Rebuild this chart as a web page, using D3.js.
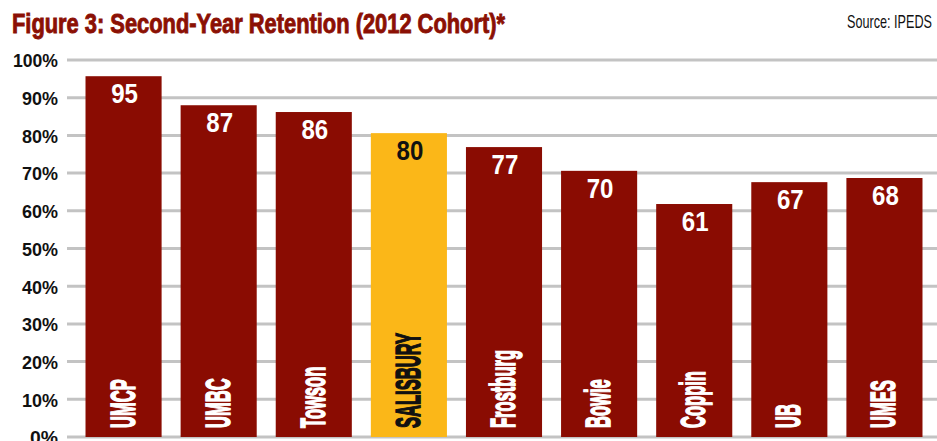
<!DOCTYPE html>
<html>
<head>
<meta charset="utf-8">
<script src="https://cdn.jsdelivr.net/npm/d3@7"></script>
<style>
  html, body { margin: 0; padding: 0; background: #fff; }
  svg { display: block; }
</style>
</head>
<body>
<svg id="chart" width="937" height="441"></svg>
<script>
// ---- data ----
const categories = ["UMCP", "UMBC", "Towson", "SALISBURY", "Frostburg", "Bowie", "Coppin", "UB", "UMES"];
const retention = [95.7, 88.0, 86.2, 80.6, 76.9, 70.6, 61.8, 67.6, 68.7];
const valueLabels = ["95", "87", "86", "80", "77", "70", "61", "67", "68"];
const highlight = "SALISBURY";
const yTicks = [0, 10, 20, 30, 40, 50, 60, 70, 80, 90, 100];
const titleText = "Figure 3: Second-Year Retention (2012 Cohort)*";
const sourceText = "Source: IPEDS";

// ---- styles ----
const RED = "#8a0c02";
const GOLD = "#fbb718";
const GRID = "#c3c3c3";
const FONT = "'Liberation Sans', Arial, sans-serif";

const svg = d3.select("#chart");

const x = d3.scaleBand().domain(categories).range([76, 932]).paddingInner(0.2).paddingOuter(0.1);
const y = d3.scaleLinear().domain([0, 100]).range([437, 60]);

// gridlines
const yAxis = d3.axisLeft(y).tickValues(yTicks).tickSize(0).tickFormat(d => d + "%");
svg.append("g")
  .selectAll("line.grid")
  .data(yTicks)
  .join("line")
  .attr("x1", 67).attr("x2", 937)
  .attr("y1", d => y(d)).attr("y2", d => y(d))
  .attr("stroke", GRID).attr("stroke-width", 3);

// axis labels
const ag = svg.append("g").attr("transform", "translate(58,0)").call(yAxis);
ag.select(".domain").remove();
ag.selectAll("text")
  .attr("x", 0)
  .attr("dy", "0.36em")
  .attr("font-family", FONT)
  .attr("font-weight", "bold")
  .attr("font-size", 19)
  .attr("fill", "#111")
  .attr("text-anchor", "end")
  .attr("textLength", function(d) { return d === 100 ? 45 : (d === 0 ? 28 : 36); })
  .attr("lengthAdjust", "spacingAndGlyphs");

// bars
const data = categories.map((c, i) => ({ c, v: retention[i], lab: valueLabels[i] }));
svg.append("g")
  .selectAll("rect")
  .data(data)
  .join("rect")
  .attr("x", d => x(d.c))
  .attr("width", x.bandwidth())
  .attr("y", d => y(d.v))
  .attr("height", d => y(0) - y(d.v))
  .attr("fill", d => d.c === highlight ? GOLD : RED);

// value labels
svg.append("g")
  .selectAll("text")
  .data(data)
  .join("text")
  .attr("transform", d => `translate(${x(d.c) + x.bandwidth() / 2 + 1},${y(d.v) + 27}) scale(0.86,1)`)
  .attr("text-anchor", "middle")
  .attr("font-family", FONT)
  .attr("font-size", 28)
  .attr("font-weight", "bold")
  .attr("fill", d => d.c === highlight ? "#111" : "#fff")
  .text(d => d.lab);

// category labels (rotated)
svg.append("g")
  .selectAll("text")
  .data(data)
  .join("text")
  .attr("transform", d => `translate(${x(d.c) + x.bandwidth() / 2 - 2},428) rotate(-90) scale(0.46,1)`)
  .attr("text-anchor", "start")
  .attr("dy", "0.36em")
  .attr("font-family", FONT)
  .attr("font-size", 36)
  .attr("font-weight", "bold")
  .attr("fill", d => d.c === highlight ? "#111" : "#fff")
  .attr("stroke", d => d.c === highlight ? "#111" : "#fff")
  .attr("stroke-width", 1.6)
  .text(d => d.c);

// title
svg.append("text")
  .attr("x", 12).attr("y", 33)
  .attr("font-family", FONT)
  .attr("font-weight", "bold")
  .attr("font-size", 27)
  .attr("fill", "#8b1004")
  .attr("stroke", "#8b1004")
  .attr("stroke-width", 0.9)
  .attr("textLength", 493)
  .attr("lengthAdjust", "spacingAndGlyphs")
  .text(titleText);

// source
svg.append("text")
  .attr("x", 847).attr("y", 28)
  .attr("font-family", FONT)
  .attr("font-size", 19)
  .attr("fill", "#111")
  .attr("textLength", 85)
  .attr("lengthAdjust", "spacingAndGlyphs")
  .text(sourceText);
</script>
</body>
</html>
